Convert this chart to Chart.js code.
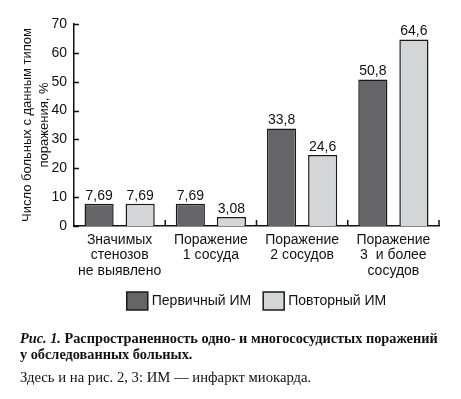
<!DOCTYPE html>
<html>
<head>
<meta charset="utf-8">
<script src="https://cdn.jsdelivr.net/npm/chart.js@4"></script>
<style>
  body { margin: 0; background: #fff; }
  #wrap { position: relative; width: 461px; height: 399px; }
  .cap { position: absolute; left: 20px; font-family: "Liberation Serif", "DejaVu Serif", serif; color: #111; white-space: nowrap; }
  .c1 { top: 330px; font-size: 14.3px; font-weight: bold; line-height: 16px; }
  .c3 { top: 369px; font-size: 14.7px; }
</style>
</head>
<body>
<div id="wrap">
  <canvas id="canvasOne" width="461" height="399"></canvas>
  <div class="cap c1"><i>Рис. 1.</i> Распространенность одно- и многососудистых поражений<br>у обследованных больных.</div>
  <div class="cap c3">Здесь и на рис. 2, 3: ИМ — инфаркт миокарда.</div>
</div>
<script>
var labels = [
   ['Значимых', 'стенозов', 'не выявлено'],
   ['Поражение', '1 сосуда'],
   ['Поражение', '2 сосудов'],
   ['Поражение', '3  и более', 'сосудов']
];
var primary = [7.69, 7.69, 33.8, 50.8];
var repeated = [7.69, 3.08, 24.6, 64.6];
var yTicks = [0, 10, 20, 30, 40, 50, 60, 70];

var font = 'Liberation Sans';

// value labels over bars
var valueLabels = {
   id: 'valueLabels',
   afterDatasetsDraw: function(chart) {
      var ctx = chart.ctx;
      ctx.save();
      ctx.font = '14px "' + font + '"';
      ctx.fillStyle = '#111';
      ctx.textAlign = 'center';
      ctx.textBaseline = 'bottom';
      chart.data.datasets.forEach(function(ds, di) {
         chart.getDatasetMeta(di).data.forEach(function(bar, i) {
            ctx.fillText(String(ds.data[i]).replace('.', ','), bar.x, bar.y - 1);
         });
      });
      ctx.restore();
   }
};

// short ticks pointing into the plot
var innerTicks = {
   id: 'innerTicks',
   afterDraw: function(chart) {
      var ctx = chart.ctx;
      var area = chart.chartArea;
      var x = chart.scales.x, y = chart.scales.y;
      ctx.save();
      ctx.strokeStyle = '#111';
      ctx.lineWidth = 1.5;
      ctx.beginPath();
      yTicks.forEach(function(v) {
         var py = Math.round(y.getPixelForValue(v)) + 0.5;
         ctx.moveTo(area.left, py);
         ctx.lineTo(area.left + 5, py);
      });
      for (var i = 1; i <= labels.length; i++) {
         var px = x.getPixelForValue(i - 0.5);
         ctx.moveTo(px, area.bottom);
         ctx.lineTo(px, area.bottom - 6);
      }
      ctx.stroke();
      ctx.restore();
   }
};

// legend under the axis labels, centred on the plot
var boxLegend = {
   id: 'boxLegend',
   afterDraw: function(chart) {
      var ctx = chart.ctx;
      var area = chart.chartArea;
      var ds = chart.data.datasets;
      ctx.save();
      ctx.font = '14px "' + font + '"';
      var widths = ds.map(function(d) { return 21 + 4 + ctx.measureText(d.label).width; });
      var total = widths[0] + widths[1] + 12;
      var lx = (area.left + area.right) / 2 - total / 2;
      var top = 292;
      ds.forEach(function(d, i) {
         ctx.fillStyle = d.backgroundColor;
         ctx.fillRect(lx, top, 21, 18);
         ctx.strokeStyle = d.borderColor;
         ctx.lineWidth = 1.5;
         ctx.strokeRect(lx, top, 21, 18);
         ctx.fillStyle = '#111';
         ctx.textBaseline = 'middle';
         ctx.fillText(d.label, lx + 25, top + 9);
         lx += widths[i] + 12;
      });
      ctx.restore();
   }
};

var ctx = document.getElementById('canvasOne').getContext('2d');
var config = {
   type: 'bar',
   data: {
      labels: labels,
      datasets: [{
         label: 'Первичный ИМ',
         data: primary,
         backgroundColor: '#656568',
         borderColor: '#1a1a1a',
         borderWidth: 1.5
      }, {
         label: 'Повторный ИМ',
         data: repeated,
         backgroundColor: '#d4d5d7',
         borderColor: '#1a1a1a',
         borderWidth: 1.5
      }]
   },
   options: {
      responsive: false,
      animation: false,
      layout: { padding: { top: 24, right: 22, left: 18, bottom: 117 } },
      datasets: { bar: { categoryPercentage: 0.9, barPercentage: 0.71 } },
      plugins: {
         tooltip: { enabled: false },
         legend: { display: false }
      },
      scales: {
         x: {
            grid: { display: false, drawTicks: false, tickLength: 0 },
            border: { color: '#111', width: 1.5 },
            ticks: {
               color: '#111',
               font: { family: font, size: 14, lineHeight: 1.12 },
               padding: 6,
               maxRotation: 0,
               autoSkip: false
            },
            afterFit: function(scale) { scale.height = 56; }
         },
         y: {
            min: 0,
            max: 70,
            afterBuildTicks: function(scale) {
               scale.ticks = yTicks.map(function(v) { return { value: v }; });
            },
            grid: { display: false, drawTicks: false, tickLength: 0 },
            border: { color: '#111', width: 1.5 },
            ticks: {
               color: '#111',
               font: { family: font, size: 14 },
               padding: 7
            },
            title: {
               display: true,
               text: ['Число больных с данным типом', 'поражения, %'],
               color: '#111',
               font: { family: font, size: 13, lineHeight: 1.38 },
               padding: 0
            },
            afterFit: function(scale) { scale.width = 56; }
         }
      }
   },
   plugins: [valueLabels, innerTicks, boxLegend]
};

var chart = new Chart(ctx, config);
</script>
</body>
</html>
